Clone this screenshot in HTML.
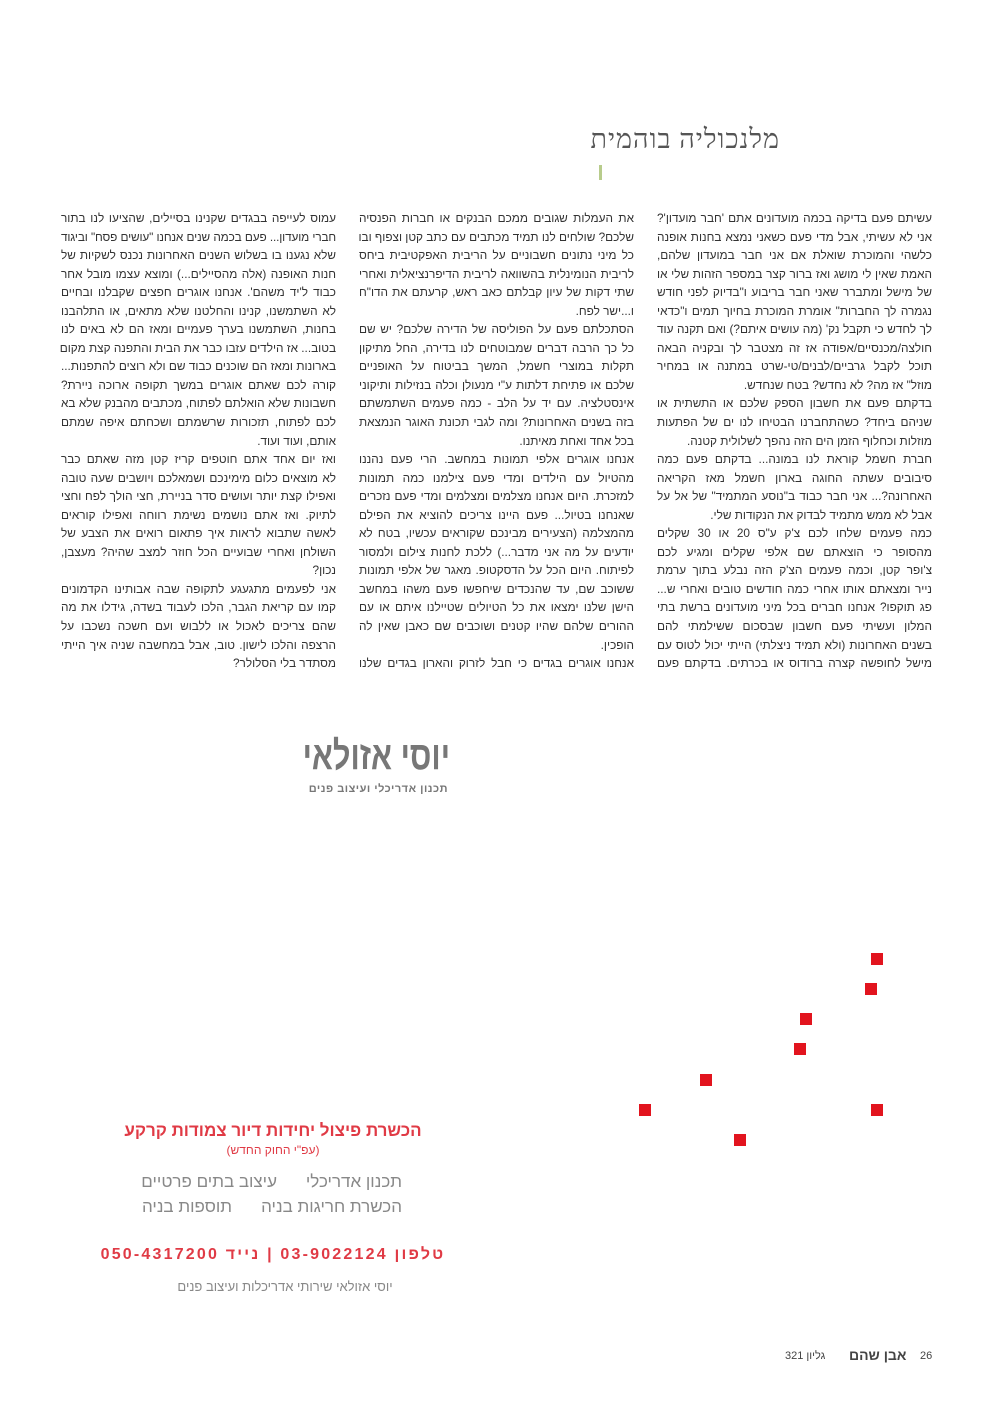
<!DOCTYPE html>
<html lang="he"><head><meta charset="utf-8">
<style>
html,body{margin:0;padding:0;background:#fff;}
body{width:995px;height:1402px;position:relative;overflow:hidden;font-family:"Liberation Sans","DejaVu Sans",sans-serif;color:#333;}
.col{position:absolute;top:209px;width:275px;direction:rtl;font-size:11.8px;line-height:18.55px;}
.col div{text-align:justify;text-align-last:justify;white-space:nowrap;}
.col div.e{text-align-last:right;}
.a{position:absolute;}
.sq{position:absolute;width:12px;height:12px;background:#e2141e;}
</style></head><body>

<div class="a" style="left:560px;top:124px;width:220px;text-align:right;direction:rtl;font-family:'Liberation Serif','DejaVu Serif',serif;font-size:27px;color:#555;letter-spacing:1px;">מלנכוליה בוהמית</div>
<div class="a" style="left:599px;top:165px;width:3px;height:15px;background:#b8cc8c;"></div>

<div class="col" style="left:657px;">
<div>עשיתם פעם בדיקה בכמה מועדונים אתם 'חבר מועדון'?</div>
<div>אני לא עשיתי, אבל מדי פעם כשאני נמצא בחנות אופנה</div>
<div>כלשהי והמוכרת שואלת אם אני חבר במועדון שלהם,</div>
<div>האמת שאין לי מושג ואז ברור קצר במספר הזהות שלי או</div>
<div>של מישל ומתברר שאני חבר בריבוע ו"בדיוק לפני חודש</div>
<div>נגמרה לך החברות" אומרת המוכרת בחיוך תמים ו"כדאי</div>
<div>לך לחדש כי תקבל נק' (מה עושים איתם?) ואם תקנה עוד</div>
<div>חולצה/מכנסיים/אפודה אז זה מצטבר לך ובקניה הבאה</div>
<div>תוכל לקבל גרביים/לבנים/טי-שרט במתנה או במחיר</div>
<div class="e">מוזל" אז מה? לא נחדש? בטח שנחדש.</div>
<div>בדקתם פעם את חשבון הספק שלכם או התשתית או</div>
<div>שניהם ביחד? כשהתחברנו הבטיחו לנו ים של הפתעות</div>
<div class="e">מוזלות וכחלוף הזמן הים הזה נהפך לשלולית קטנה.</div>
<div>חברת חשמל קוראת לנו במונה... בדקתם פעם כמה</div>
<div>סיבובים עשתה החוגה בארון חשמל מאז הקריאה</div>
<div>האחרונה?... אני חבר כבוד ב"נוסע המתמיד" של אל על</div>
<div class="e">אבל לא ממש מתמיד לבדוק את הנקודות שלי.</div>
<div>כמה פעמים שלחו לכם צ'ק ע"ס 20 או 30 שקלים</div>
<div>מהסופר כי הוצאתם שם אלפי שקלים ומגיע לכם</div>
<div>צ'ופר קטן, וכמה פעמים הצ'ק הזה נבלע בתוך ערמת</div>
<div>נייר ומצאתם אותו אחרי כמה חודשים טובים ואחרי ש...</div>
<div>פג תוקפו? אנחנו חברים בכל מיני מועדונים ברשת בתי</div>
<div>המלון ועשיתי פעם חשבון שבסכום ששילמתי להם</div>
<div>בשנים האחרונות (ולא תמיד ניצלתי) הייתי יכול לטוס עם</div>
<div>מישל לחופשה קצרה ברודוס או בכרתים. בדקתם פעם</div>
</div>

<div class="col" style="left:359px;">
<div>את העמלות שגובים ממכם הבנקים או חברות הפנסיה</div>
<div>שלכם? שולחים לנו תמיד מכתבים עם כתב קטן וצפוף ובו</div>
<div>כל מיני נתונים חשבוניים על הריבית האפקטיבית ביחס</div>
<div>לריבית הנומינלית בהשוואה לריבית הדיפרנציאלית ואחרי</div>
<div>שתי דקות של עיון קבלתם כאב ראש, קרעתם את הדו"ח</div>
<div class="e">ו...ישר לפח.</div>
<div>הסתכלתם פעם על הפוליסה של הדירה שלכם? יש שם</div>
<div>כל כך הרבה דברים שמבוטחים לנו בדירה, החל מתיקון</div>
<div>תקלות במוצרי חשמל, המשך בביטוח על האופניים</div>
<div>שלכם או פתיחת דלתות ע"י מנעולן וכלה בנזילות ותיקוני</div>
<div>אינסטלציה. עם יד על הלב - כמה פעמים השתמשתם</div>
<div>בזה בשנים האחרונות? ומה לגבי תכונת האוגר הנמצאת</div>
<div class="e">בכל אחד ואחת מאיתנו.</div>
<div>אנחנו אוגרים אלפי תמונות במחשב. הרי פעם נהננו</div>
<div>מהטיול עם הילדים ומדי פעם צילמנו כמה תמונות</div>
<div>למזכרת. היום אנחנו מצלמים ומצלמים ומדי פעם נזכרים</div>
<div>שאנחנו בטיול... פעם היינו צריכים להוציא את הפילם</div>
<div>מהמצלמה (הצעירים מבינכם שקוראים עכשיו, בטח לא</div>
<div>יודעים על מה אני מדבר...) ללכת לחנות צילום ולמסור</div>
<div>לפיתוח. היום הכל על הדסקטופ. מאגר של אלפי תמונות</div>
<div>ששוכב שם, עד שהנכדים שיחפשו פעם משהו במחשב</div>
<div>הישן שלנו ימצאו את כל הטיולים שטיילנו איתם או עם</div>
<div>ההורים שלהם שהיו קטנים ושוכבים שם כאבן שאין לה</div>
<div class="e">הופכין.</div>
<div>אנחנו אוגרים בגדים כי חבל לזרוק והארון בגדים שלנו</div>
</div>

<div class="col" style="left:61px;">
<div>עמוס לעייפה בבגדים שקנינו בסיילים, שהציעו לנו בתור</div>
<div style="letter-spacing:-0.15px;">חברי מועדון... פעם בכמה שנים אנחנו "עושים פסח" וביגוד</div>
<div>שלא נגענו בו בשלוש השנים האחרונות נכנס לשקיות של</div>
<div>חנות האופנה (אלה מהסיילים...) ומוצא עצמו מובל אחר</div>
<div>כבוד ל'יד משהם'. אנחנו אוגרים חפצים שקבלנו ובחיים</div>
<div>לא השתמשנו, קנינו והחלטנו שלא מתאים, או התלהבנו</div>
<div>בחנות, השתמשנו בערך פעמיים ומאז הם לא באים לנו</div>
<div>בטוב... אז הילדים עזבו כבר את הבית והתפנה קצת מקום</div>
<div>בארונות ומאז הם שוכנים כבוד שם ולא רוצים להתפנות...</div>
<div>קורה לכם שאתם אוגרים במשך תקופה ארוכה ניירת?</div>
<div>חשבונות שלא הואלתם לפתוח, מכתבים מהבנק שלא בא</div>
<div>לכם לפתוח, תזכורות שרשמתם ושכחתם איפה שמתם</div>
<div class="e">אותם, ועוד ועוד.</div>
<div>ואז יום אחד אתם חוטפים קריז קטן מזה שאתם כבר</div>
<div>לא מוצאים כלום מימינכם ושמאלכם ויושבים שעה טובה</div>
<div>ואפילו קצת יותר ועושים סדר בניירת, חצי הולך לפח וחצי</div>
<div>לתיוק. ואז אתם נושמים נשימת רווחה ואפילו קוראים</div>
<div>לאשה שתבוא לראות איך פתאום רואים את הצבע של</div>
<div>השולחן ואחרי שבועיים הכל חוזר למצב שהיה? מעצבן,</div>
<div class="e">נכון?</div>
<div>אני לפעמים מתגעגע לתקופה שבה אבותינו הקדמונים</div>
<div>קמו עם קריאת הגבר, הלכו לעבוד בשדה, גידלו את מה</div>
<div>שהם צריכים לאכול או ללבוש ועם חשכה נשכבו על</div>
<div>הרצפה והלכו לישון. טוב, אבל במחשבה שניה איך הייתי</div>
<div class="e">מסתדר בלי הסלולר?</div>
</div>

<div class="a" style="left:290px;top:733px;width:160px;text-align:right;direction:rtl;font-size:40px;font-weight:bold;color:#777;line-height:46px;transform:scaleX(0.77);transform-origin:right;white-space:nowrap;">יוסי אזולאי</div>
<div class="a" style="left:290px;top:783px;width:158px;text-align:right;direction:rtl;font-size:11px;font-weight:bold;color:#777;letter-spacing:0.5px;white-space:nowrap;">תכנון אדריכלי ועיצוב פנים</div>

<div class="sq" style="left:871px;top:953px;"></div>
<div class="sq" style="left:865px;top:983px;"></div>
<div class="sq" style="left:800px;top:1013px;"></div>
<div class="sq" style="left:794px;top:1043px;"></div>
<div class="sq" style="left:700px;top:1074px;"></div>
<div class="sq" style="left:639px;top:1104px;"></div>
<div class="sq" style="left:871px;top:1104px;"></div>
<div class="sq" style="left:734px;top:1134px;"></div>

<div class="a" style="left:110px;top:1121px;width:326px;text-align:center;direction:rtl;font-size:17px;font-weight:bold;color:#e03a45;white-space:nowrap;">הכשרת פיצול יחידות דיור צמודות קרקע</div>
<div class="a" style="left:110px;top:1143px;width:326px;text-align:center;direction:rtl;font-size:12px;color:#e03a45;">(עפ"י החוק החדש)</div>
<div class="a" style="right:593px;top:1172px;direction:rtl;font-size:17px;color:#888;white-space:nowrap;">תכנון אדריכלי</div>
<div class="a" style="right:718px;top:1172px;direction:rtl;font-size:17px;color:#888;white-space:nowrap;">עיצוב בתים פרטיים</div>
<div class="a" style="right:593px;top:1197px;direction:rtl;font-size:17px;color:#888;white-space:nowrap;">הכשרת חריגות בניה</div>
<div class="a" style="right:763px;top:1197px;direction:rtl;font-size:17px;color:#888;white-space:nowrap;">תוספות בניה</div>
<div class="a" style="left:98px;top:1246px;width:350px;text-align:center;direction:rtl;font-size:16px;font-weight:bold;color:#e03a45;letter-spacing:2.2px;white-space:nowrap;">טלפון 03-9022124 | נייד 050-4317200</div>
<div class="a" style="left:160px;top:1279px;width:250px;text-align:center;direction:rtl;font-size:13px;color:#888;white-space:nowrap;">יוסי אזולאי שירותי אדריכלות ועיצוב פנים</div>

<div class="a" style="left:920px;top:1350px;font-size:11px;color:#444;">26</div>
<div class="a" style="left:849px;top:1347px;font-size:14px;font-weight:bold;color:#444;direction:rtl;">אבן שהם</div>
<div class="a" style="left:785px;top:1350px;font-size:11px;color:#444;direction:rtl;">גליון 321</div>
</body></html>
